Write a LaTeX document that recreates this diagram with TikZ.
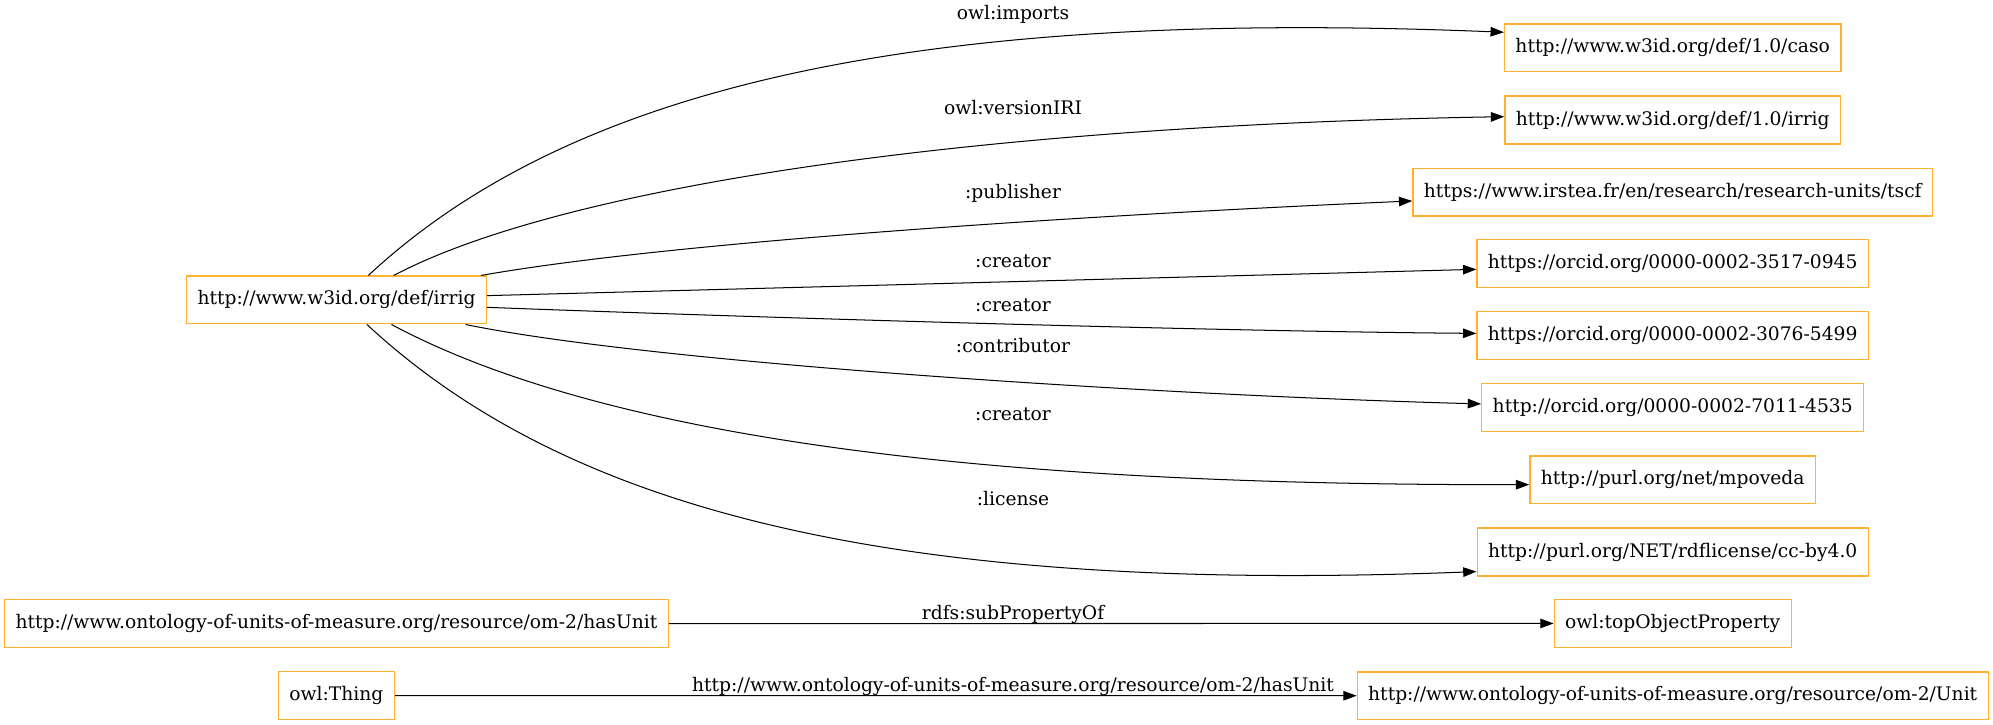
\documentclass[tikz,border=0pt]{standalone}
\usepackage{fontspec}
\setmainfont{DejaVu Serif}
\usetikzlibrary{arrows.meta}
\definecolor{nodeorange}{RGB}{255,178,50}

\begin{document}
\begin{tikzpicture}[x=1pt, y=1pt, font=\fontsize{14.7}{17}\selectfont,
    res/.style={draw=nodeorange, line width=1pt, minimum height=37.6pt, inner xsep=8.6pt, inner ysep=0pt},
    link/.style={-{Triangle[length=10.5pt,width=7.5pt]}, line width=0.8pt},
    lbl/.style={anchor=base, inner sep=0pt}]
  \useasboundingbox (0,0) rectangle (1568,570);

  % ontology and what it points to
  \node[res] (irrig) at (264.8,334) {http://www.w3id.org/def/irrig};
  \node[res] (caso) at (1316,532.4) {http://www.w3id.org/def/1.0/caso};
  \node[res] (version) at (1316,475.6) {http://www.w3id.org/def/1.0/irrig};
  \node[res] (irstea) at (1316,418.9) {https://www.irstea.fr/en/research/research-units/tscf};
  \node[res] (orcidA) at (1316,362.8) {https://orcid.org/0000-0002-3517-0945};
  \node[res] (orcidB) at (1316,306) {https://orcid.org/0000-0002-3076-5499};
  \node[res] (orcidC) at (1316,249.2) {http://orcid.org/0000-0002-7011-4535};
  \node[res] (mpoveda) at (1316,192.4) {http://purl.org/net/mpoveda};
  \node[res] (ccby) at (1316,135.7) {http://purl.org/NET/rdflicense/cc-by4.0};

  % om-2 part
  \node[res] (hasunit) at (264.7,79.4) {http://www.ontology-of-units-of-measure.org/resource/om-2/hasUnit};
  \node[res] (topprop) at (1316,79.5) {owl:topObjectProperty};
  \node[res] (thing) at (264.7,22.7) {owl:Thing};
  \node[res] (unit) at (1316,22.6) {http://www.ontology-of-units-of-measure.org/resource/om-2/Unit};

  \draw[link] ([xshift=25pt]irrig.north) .. controls (454,506) and (733,563) .. ([yshift=12.2pt]caso.west);
  \draw[link] ([xshift=45pt]irrig.north) .. controls (442,423) and (764,471) .. ([yshift=2.6pt]version.west);
  \draw[link] ([xshift=113.8pt]irrig.north) .. controls (529,380) and (860,401) .. ([yshift=-7pt]irstea.west);
  \draw[link] ([yshift=3.4pt]irrig.east) -- ([yshift=-4.7pt]orcidA.west);
  \draw[link] ([yshift=-5.8pt]irrig.east) .. controls (600,320) and (950,309.5) .. ([yshift=1.7pt]orcidB.west);
  \draw[link] ([xshift=101.5pt]irrig.south) .. controls (516,284) and (915,259) .. ([yshift=3pt]orcidC.west);
  \draw[link] ([xshift=43.2pt]irrig.south) .. controls (500,212) and (850,188.2) .. ([yshift=-3.7pt]mpoveda.west);
  \draw[link] ([xshift=23.9pt]irrig.south) .. controls (450,165) and (711,103) .. ([yshift=-15.4pt]ccby.west);
  \draw[link] (hasunit) -- (topprop);
  \draw[link] (thing) -- (unit);

  % edge labels
  \node[lbl] (lImports) at (797,554.6) {owl:imports};
  \node[lbl] (lVersion) at (797,479.9) {owl:versionIRI};
  \node[lbl] (lPublisher) at (797,413.5) {:publisher};
  \node[lbl] (lCreatorA) at (797,359.7) {:creator};
  \node[lbl] (lCreatorB) at (797,325.1) {:creator};
  \node[lbl] (lContrib) at (797,293) {:contributor};
  \node[lbl] (lCreatorC) at (797,239.5) {:creator};
  \node[lbl] (lLicense) at (797,172.1) {:license};
  \node[lbl] (lSubProp) at (797,82.8) {rdfs:subPropertyOf};
  \node[lbl] (lHasUnit) at (797,26.3) {http://www.ontology-of-units-of-measure.org/resource/om-2/hasUnit};
\end{tikzpicture}
\end{document}
